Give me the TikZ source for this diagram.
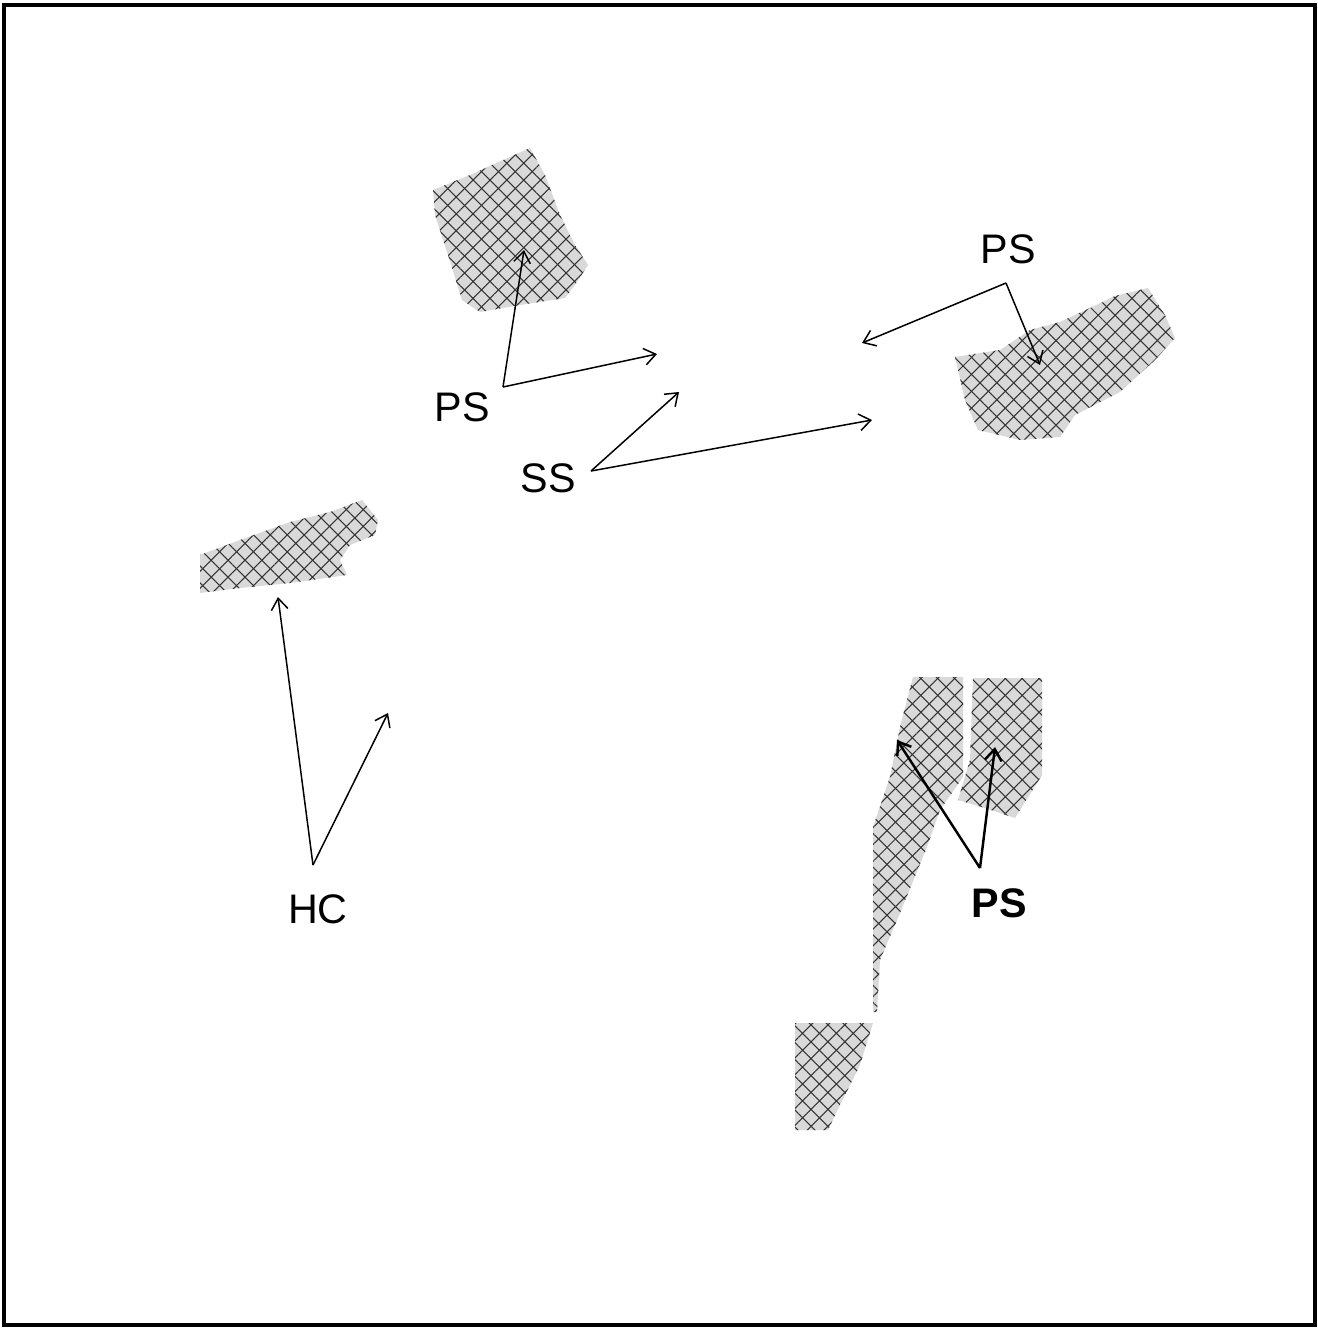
\documentclass[tikz,border=0pt]{standalone}
\usepackage{fontspec}
\setmainfont{Liberation Sans}
\usetikzlibrary{arrows.meta,patterns.meta}
\begin{document}
\begin{tikzpicture}[x=0.02cm,y=-0.02cm,
  hatched/.style={draw=none,
    preaction={fill=gray!30},
    pattern={Lines[angle=45,distance=6.8pt,line width=0.6pt]}, pattern color=black!80,
    postaction={pattern={Lines[angle=-45,distance=6.8pt,line width=0.6pt]}, pattern color=black!80}},
  lbl/.style={inner sep=0pt, font=\fontsize{23.5}{27}\selectfont},
  ptr/.style={line width=0.85pt, -{Straight Barb[length=6.5pt,width=9.5pt,line width=0.85pt]}},
  ptrb/.style={line width=1.4pt, -{Straight Barb[length=6.5pt,width=9.5pt,line width=1.4pt]}}]
\useasboundingbox (0,0) rectangle (1318,1329);
\fill[white] (0,0) rectangle (1318,1329);
\draw[line width=2.3pt] (4,5) rectangle (1315,1325);

% hatched regions
\path[hatched] (433,190) -- (470,175) -- (530,148) -- (545,175) -- (560,215) -- (575,245)
  -- (588,265) -- (575,285) -- (565,298) -- (520,305) -- (480,312) -- (462,300)
  -- (448,255) -- (435,215) -- cycle;
\path[hatched] (955,357) -- (1000,350) -- (1030,330) -- (1060,322) -- (1090,308) -- (1115,296)
  -- (1148,288) -- (1165,315) -- (1175,338) -- (1155,360) -- (1120,392) -- (1075,415)
  -- (1060,437) -- (1020,440) -- (978,430) -- (965,400) -- cycle;
\path[hatched] (200,593) -- (200,555) -- (240,540) -- (290,522) -- (330,512) -- (362,500)
  -- (378,520) -- (375,535) -- (350,545) -- (340,560) -- (347,575) -- (290,583)
  -- (240,588) -- cycle;
\path[hatched] (913,677) -- (963,677) -- (963,777) -- (940,810) -- (927,847) -- (900,913)
  -- (880,960) -- (877,1012) -- (873,1012) -- (873,827) -- (890,777) -- (900,727) -- cycle;
\path[hatched] (973,678) -- (1042,678) -- (1042,775) -- (1015,818) -- (985,808) -- (958,800)
  -- (970,760) -- cycle;
\path[hatched] (795,1023) -- (873,1023) -- (860,1065) -- (840,1105) -- (828,1130) -- (795,1130) -- cycle;

% labels
\node[lbl] (psa) at (462,407) {PS};
\node[lbl] (ss)  at (548,478) {SS};
\node[lbl] (psb) at (1008,249) {PS};
\node[lbl] (hc)  at (318,909) {HC};
\node[lbl, font=\fontsize{23.5}{27}\selectfont\bfseries] (psc) at (999,903) {PS};

% connector origins and targets
\coordinate (oa) at (503,387);
\coordinate (ta1) at (524,250);
\coordinate (ta2) at (657,354);
\coordinate (os) at (591,471);
\coordinate (ts1) at (679,392);
\coordinate (ts2) at (872,420);
\coordinate (ob) at (1006,283);
\coordinate (tb1) at (862,343);
\coordinate (tb2) at (1040,365);
\coordinate (oh) at (313,865);
\coordinate (th1) at (278,597);
\coordinate (th2) at (388,713);
\coordinate (oc) at (980,868);
\coordinate (tc1) at (897,740);
\coordinate (tc2) at (995,747);

\draw[ptr] (oa) -- (ta1);
\draw[ptr] (oa) -- (ta2);
\draw[ptr] (os) -- (ts1);
\draw[ptr] (os) -- (ts2);
\draw[ptr] (ob) -- (tb1);
\draw[ptr] (ob) -- (tb2);
\draw[ptr] (oh) -- (th1);
\draw[ptr] (oh) -- (th2);
\draw[ptrb] (oc) -- (tc1);
\draw[ptrb] (oc) -- (tc2);
\end{tikzpicture}
\end{document}
